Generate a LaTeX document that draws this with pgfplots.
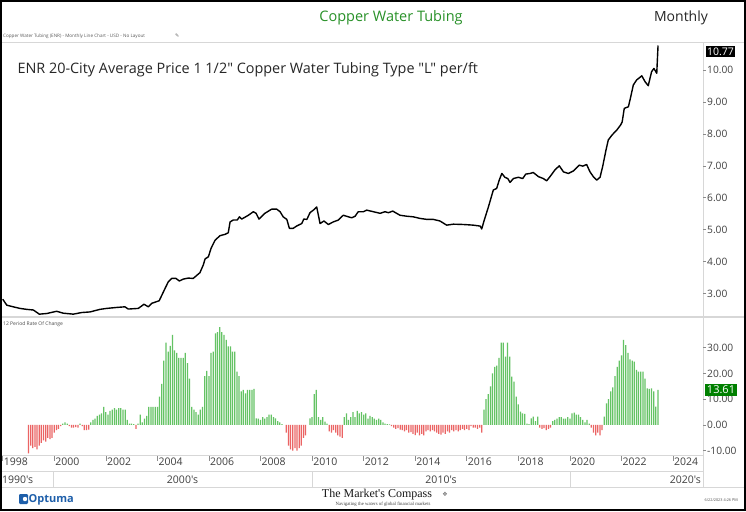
\documentclass[border=0pt]{standalone}
\usepackage{pgfplots}
\pgfplotsset{compat=1.18}
\usepackage{pgfplotstable}
\usepackage{fontspec}
\setmainfont{Open Sans}[Ligatures=TeXOff]
\newfontfamily\seriffont{Liberation Serif}
\newfontfamily\dejavu{DejaVu Sans}
\definecolor{ttl}{RGB}{40,145,40}
\definecolor{barg}{RGB}{100,195,100}
\definecolor{barr}{RGB}{235,100,100}
\definecolor{boxg}{RGB}{0,128,0}
\definecolor{sep}{RGB}{215,215,215}
\definecolor{optblue}{RGB}{30,95,170}

\pgfplotstableread{
x y
1998.00 2.82
1998.16 2.63
1998.41 2.58
1998.67 2.53
1998.93 2.50
1999.19 2.48
1999.42 2.35
1999.71 2.37
2000.09 2.44
2000.35 2.38
2000.74 2.35
2001.06 2.40
2001.39 2.42
2001.77 2.50
2002.03 2.53
2002.42 2.56
2002.74 2.58
2002.87 2.51
2003.26 2.53
2003.48 2.66
2003.65 2.58
2003.78 2.69
2004.07 2.77
2004.30 3.16
2004.42 3.36
2004.56 3.47
2004.72 3.47
2004.85 3.39
2005.01 3.45
2005.20 3.48
2005.39 3.47
2005.65 3.65
2005.78 3.89
2005.85 4.08
2005.98 4.15
2006.08 4.41
2006.24 4.67
2006.43 4.81
2006.62 4.85
2006.75 4.90
2006.82 5.24
2006.94 5.30
2007.10 5.30
2007.18 5.40
2007.27 5.33
2007.53 5.45
2007.72 5.56
2007.83 5.51
2007.94 5.33
2008.17 5.51
2008.43 5.64
2008.63 5.64
2008.76 5.56
2008.88 5.40
2009.02 5.32
2009.12 5.04
2009.27 5.04
2009.40 5.11
2009.60 5.19
2009.68 5.33
2009.80 5.32
2009.92 5.53
2010.05 5.61
2010.18 5.71
2010.31 5.19
2010.46 5.27
2010.63 5.16
2010.82 5.24
2011.02 5.30
2011.21 5.45
2011.41 5.40
2011.54 5.37
2011.67 5.42
2011.79 5.56
2011.99 5.56
2012.12 5.61
2012.38 5.56
2012.64 5.51
2012.83 5.56
2012.96 5.53
2013.13 5.58
2013.41 5.45
2013.67 5.42
2013.93 5.40
2014.19 5.35
2014.45 5.32
2014.70 5.32
2014.96 5.27
2015.22 5.14
2015.48 5.17
2015.87 5.16
2016.25 5.14
2016.52 5.11
2016.58 5.02
2016.68 5.30
2016.84 5.71
2017.03 6.24
2017.16 6.29
2017.26 6.55
2017.36 6.76
2017.48 6.64
2017.59 6.60
2017.68 6.48
2017.81 6.60
2018.00 6.64
2018.17 6.60
2018.29 6.74
2018.46 6.76
2018.58 6.79
2018.78 6.66
2018.97 6.60
2019.10 6.53
2019.23 6.66
2019.42 6.87
2019.59 7.00
2019.75 6.81
2019.94 6.76
2020.14 6.84
2020.36 7.02
2020.50 6.99
2020.65 7.04
2020.78 6.81
2020.91 6.66
2021.04 6.55
2021.17 6.64
2021.27 6.97
2021.40 7.49
2021.49 7.81
2021.63 7.96
2021.82 8.12
2021.97 8.28
2022.03 8.38
2022.11 8.80
2022.27 8.85
2022.36 9.16
2022.46 9.53
2022.59 9.69
2022.79 9.82
2022.92 9.63
2023.04 9.51
2023.17 9.95
2023.26 10.05
2023.37 9.90
2023.42 10.77
}\price

% 12-month rate of change, month index m counted from Jan 1998 (positive months)
\pgfplotstableread{
m v
28 0.5
29 1
30 0.5
36 0.5
41 1
42 2
43 2.5
44 3.5
45 4
46 4.5
47 7
48 5
49 4
50 5.5
51 6
52 6.5
53 6
54 6.5
55 6.5
56 6
57 6
58 2
59 0.5
60 0.5
61 0.3
63 0.5
64 4
65 1
66 2.5
67 3.5
68 7
69 7
70 7
71 7
72 7
73 11
74 16
75 25
76 32
77 28.5
78 30.7
79 35
80 29
81 28
82 26
83 26
84 26
85 28
86 24
87 18
88 7
89 6
90 5
91 4
92 6
93 7
94 19
95 21
96 19
97 28
98 28.5
99 35.6
100 36
101 38
102 36
103 35
104 33
105 30.5
106 30.5
107 28.5
108 28.5
109 20.7
110 19
111 13
112 13.6
113 12.3
114 13.6
115 13.6
116 13.6
117 14
118 2.6
119 2.5
120 2
121 3
122 2.5
123 3
124 4
125 4
126 3
127 2.6
128 1.5
129 1
130 0.3
143 2.6
144 3
145 12
146 13.6
147 3
148 2
149 3
150 1.3
151 0.5
159 3
160 4.5
161 2
162 3
163 5
164 3
165 5.5
166 4.5
167 5
168 4
169 4.5
170 2.5
171 3.5
172 3
173 2.5
174 2
175 2.5
176 2
177 1
178 0.5
179 0.3
180 0.2
224 6
225 10
226 12
227 15
228 20
229 22.6
230 23
231 26
232 32
233 32
234 26.5
235 32
236 26.5
237 18.8
238 16.8
239 11
240 8
241 5.2
242 4.5
243 4.3
244 0.5
245 0.3
246 2.6
247 3.2
248 1.5
249 3.2
256 1.5
257 2
258 2.5
259 3
260 3
261 2.5
262 2.5
263 3
264 2.5
265 4.5
266 4.8
267 4
268 4
269 3
270 2
271 1
272 2
273 0.5
280 3.2
281 8.4
282 10
283 13
284 14.6
285 19
286 22.6
287 25
288 27
289 33
290 31
291 28
292 25.5
293 25
294 24.6
295 21.4
296 20.7
297 20.7
298 20.7
299 18
300 14.2
301 14
302 14.2
303 13
304 7.1
305 13.61
}\rocpos

% negative months
\pgfplotstableread{
m v
12 -11
13 -8
14 -9
15 -8.5
16 -9.5
17 -8
18 -7
19 -6
20 -6.5
21 -5
22 -5.5
23 -5
24 -3
25 -2
26 -1.5
27 -0.5
31 -0.5
32 -1
33 -1
34 -0.8
35 -1
37 -0.5
38 -2
39 -2
40 -1.8
62 -1.5
132 -3
133 -8
134 -9.5
135 -10
136 -9
137 -10
138 -9
139 -8
140 -5
141 -4
152 -2.5
153 -3
154 -2
155 -3
156 -4
157 -4.5
158 -5
181 -0.5
182 -1
183 -1.5
184 -1.2
185 -1.8
186 -2
187 -2.5
188 -2
189 -3
190 -2.8
191 -3.5
192 -3.9
193 -3
194 -4
195 -3.5
196 -4
197 -2.5
198 -2
199 -2.5
200 -2
201 -2.5
202 -3
203 -3.5
204 -3.8
205 -3
206 -3.5
207 -2.5
208 -3
209 -2
210 -2.5
211 -2
212 -2.5
213 -2
214 -1.5
215 -2
216 -1.5
217 -2
218 -0.5
219 -1
220 -1
221 -1.5
222 -1
223 -3
250 -1
251 -1.5
252 -1.2
253 -2
254 -1.5
255 -1
274 -1
275 -3
276 -4
277 -3
278 -4
279 -2
}\rocneg

\begin{document}
\begin{tikzpicture}
\useasboundingbox (0,0) rectangle (746pt,-511pt);
\fill[white] (0,0) rectangle (746pt,-511pt);

% separators
\draw[sep, line width=0.8pt] (0,-42.3pt) -- (746pt,-42.3pt);
\draw[sep, line width=1.2pt] (0,-317pt) -- (746pt,-317pt);
\draw[sep, line width=0.8pt] (0,-471pt) -- (703pt,-471pt);
\draw[sep, line width=0.8pt] (0,-487pt) -- (746pt,-487pt);
\draw[sep, line width=0.8pt] (703pt,-42.3pt) -- (703pt,-487pt);
\foreach \xx in {53,312.1,569.9} {\draw[sep, line width=0.8pt] (\xx pt,-471pt) -- (\xx pt,-487pt);}

% header
\node[text=ttl, font=\fontsize{14.5}{16}\selectfont] at (391pt,-18pt) {Copper Water Tubing};
\node[text=black!85, font=\fontsize{14}{16}\selectfont] at (681pt,-18pt) {Monthly};
\node[anchor=west, text=black!65, inner sep=0pt, font=\fontsize{4.6}{5}\selectfont] at (3pt,-36pt) {Copper Water Tubing (ENR) - Monthly Line Chart - USD - No Layout};
\node[anchor=west, text=black!60, inner sep=0pt, font=\dejavu\fontsize{5}{5}\selectfont] at (175pt,-36pt) {✎};

\begin{axis}[
  at={(1pt,-316.7pt)}, anchor=south west, scale only axis,
  width=702pt, height=274.4pt,
  xmin=1997.934, xmax=2025.164, ymin=2.27, ymax=10.87,
  axis x line=none, axis y line*=right,
  axis line style={draw=none},
  ytick={3,4,5,6,7,8,9,10},
  yticklabels={3.00,4.00,5.00,6.00,7.00,8.00,9.00,10.00},
  tick align=outside, major tick length=3pt,
  ytick style={draw=black!45, line width=0.5pt},
  yticklabel style={font=\fontsize{10.2}{11}\selectfont, text=black!75, inner sep=1pt},
  clip=true,
]
\addplot[black, line width=1.4pt, line join=round] table[x=x, y=y]{\price};
\end{axis}

\node[anchor=west, text=black!85, font=\fontsize{14.4}{16}\selectfont] at (14pt,-70pt) {ENR 20-City Average Price 1 1/2" Copper Water Tubing Type "L" per/ft};

\begin{axis}[
  at={(1pt,-455.7pt)}, anchor=south west, scale only axis,
  width=702pt, height=138.4pt,
  xmin=1997.934, xmax=2025.164, ymin=-11.94, ymax=41.8,
  axis x line*=bottom, axis y line*=right,
  axis line style={draw=none},
  ytick={-10,0,10,20,30},
  yticklabels={-10.00,0.00,10.00,20.00,30.00},
  xtick={1998,2000,2002,2004,2006,2008,2010,2012,2014,2016,2018,2020,2022,2024},
  xticklabels={1998,2000,2002,2004,2006,2008,2010,2012,2014,2016,2018,2020,2022,2024},
  tick align=outside, major tick length=3pt,
  ytick style={draw=black!45, line width=0.5pt},
  xtick style={draw=black!45, line width=0.6pt, /pgfplots/major tick length=5pt},
  yticklabel style={font=\fontsize{10.2}{11}\selectfont, text=black!75, inner sep=1pt},
  xticklabel style={font=\fontsize{10.5}{12}\selectfont, text=black!75, anchor=north west, inner sep=1pt, xshift=0pt, yshift=2pt},
  clip=true,
]
\addplot[ybar, bar width=1.25pt, fill=barg, draw=none] table[x expr=1998+\thisrow{m}/12, y=v]{\rocpos};
\addplot[ybar, bar width=1.25pt, fill=barr, draw=none] table[x expr=1998+\thisrow{m}/12, y=v]{\rocneg};
\end{axis}

\draw[sep, line width=0.8pt] (0,-455.7pt) -- (703pt,-455.7pt);
\node[anchor=west, text=black!70, inner sep=0pt, font=\fontsize{5}{6}\selectfont] at (3pt,-324pt) {12 Period Rate Of Change};

% value boxes
\node[fill=black, text=white, inner sep=1.2pt, font=\fontsize{10.5}{11}\selectfont] at (720.5pt,-51.5pt) {10.77};
\node[fill=boxg, text=white, inner sep=1.5pt, font=\fontsize{11}{12}\selectfont] at (721pt,-390pt) {13.61};

% decade row
\node[anchor=west, text=black!75, inner sep=1pt, font=\fontsize{10.5}{12}\selectfont] at (1pt,-479.5pt) {1990's};
\node[text=black!75, inner sep=1pt, font=\fontsize{10.5}{12}\selectfont] at (182.5pt,-479.5pt) {2000's};
\node[text=black!75, inner sep=1pt, font=\fontsize{10.5}{12}\selectfont] at (441pt,-479.5pt) {2010's};
\node[anchor=east, text=black!75, inner sep=1pt, font=\fontsize{10.5}{12}\selectfont] at (702pt,-479.5pt) {2020's};

% footer
\fill[optblue, rounded corners=1.2pt] (19pt,-494pt) rectangle (28pt,-504pt);
\fill[white] (25pt,-499pt) circle (2.2pt);
\node[anchor=west, text=optblue, inner sep=0pt, font=\bfseries\fontsize{11}{12}\selectfont] at (28.5pt,-499.5pt) {Optuma};
\node[text=black!90, inner sep=0pt, font=\seriffont\fontsize{12}{13}\selectfont] at (377pt,-494.5pt) {The Market's Compass};
\node[text=black!55, inner sep=0pt, font=\dejavu\fontsize{6}{6}\selectfont] at (445pt,-494pt) {❖};
\node[text=black!75, inner sep=0pt, font=\seriffont\fontsize{4.8}{5}\selectfont] at (383pt,-504.5pt) {Navigating the waters of global financial markets};
\node[anchor=east, text=black!70, inner sep=0pt, font=\fontsize{3.8}{4}\selectfont] at (738pt,-500.5pt) {6/22/2023 4:26 PM};

% frame
\draw[black, line width=2pt] (1pt,-1pt) rectangle (745pt,-510pt);
\end{tikzpicture}
\end{document}
